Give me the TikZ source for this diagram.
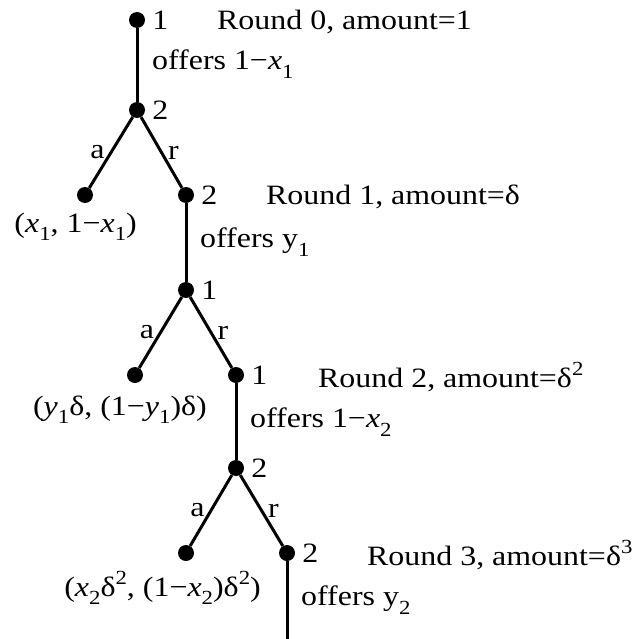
\documentclass[tikz,border=0pt]{standalone}
\usepackage{fontspec}
\setmainfont{Liberation Serif}[FakeStretch=1.14]
\usetikzlibrary{positioning}
\newcommand{\lo}[1]{\raisebox{-.3em}{\fontsize{20}{20}\selectfont#1}}
\newcommand{\hi}[1]{\raisebox{.42em}{\fontsize{20}{20}\selectfont#1}}

\begin{document}
\begin{tikzpicture}[x=1pt, y=-1pt, font=\fontsize{28}{32}\selectfont,
  dot/.style={circle, fill, inner sep=0pt, minimum size=16pt},
  who/.style={label={[inner sep=0pt, label distance=7pt]right:#1}},
  branch/.style={line width=3pt},
  act/.style={inner sep=0pt, midway},
  note/.style={anchor=west, inner sep=0pt},
  pay/.style={anchor=east, inner sep=0pt}]
\useasboundingbox (0,0) rectangle (631,639);
\node[dot, who=1] (r0) at (137,20) {};
\node[dot, who=2] (r0b) at (137,110) {};
\node[dot] (acc1) at (85,195) {};
\node[dot, who=2] (r1) at (186,195) {};
\node[dot, who=1] (r1b) at (186,290) {};
\node[dot] (acc2) at (135,375) {};
\node[dot, who=1] (r2) at (236,375) {};
\node[dot, who=2] (r2b) at (236,468) {};
\node[dot] (acc3) at (186,553) {};
\node[dot, who=2] (r3) at (287,553) {};
\coordinate (cont) at (287,639);
\draw[branch] (r0) -- (r0b);
\draw[branch] (r0b) -- node[act, left=5pt] {a} (acc1);
\draw[branch] (r0b) -- node[act, right=5pt] {r} (r1);
\draw[branch] (r1) -- (r1b);
\draw[branch] (r1b) -- node[act, left=5pt] {a} (acc2);
\draw[branch] (r1b) -- node[act, right=5pt] {r} (r2);
\draw[branch] (r2) -- (r2b);
\draw[branch] (r2b) -- node[act, left=5pt] {a} (acc3);
\draw[branch] (r2b) -- node[act, right=5pt] {r} (r3);
\draw[branch] (r3) -- (cont);
\node[note] (round0) at (217,22) {Round 0, amount=1};
\node[note] (offer0) at (152,64) {offers 1−\textit{x}\lo{1}};
\node[pay] (pay1) at (137,227) {(\textit{x}\lo{1}, 1−\textit{x}\lo{1})};
\node[note] (round1) at (266,197) {Round 1, amount=δ};
\node[note] (offer1) at (200,242) {offers y\lo{1}};
\node[pay] (pay2) at (207,410) {(\textit{y}\lo{1}δ, (1−\textit{y}\lo{1})δ)};
\node[note] (round2) at (318,377) {Round 2, amount=δ\hi{2}};
\node[note] (offer2) at (250,422) {offers 1−\textit{x}\lo{2}};
\node[pay] (pay3) at (261,588) {(\textit{x}\lo{2}δ\hi{2}, (1−\textit{x}\lo{2})δ\hi{2})};
\node[note] (round3) at (367,555) {Round 3, amount=δ\hi{3}};
\node[note] (offer3) at (301,600) {offers y\lo{2}};
\end{tikzpicture}
\end{document}
